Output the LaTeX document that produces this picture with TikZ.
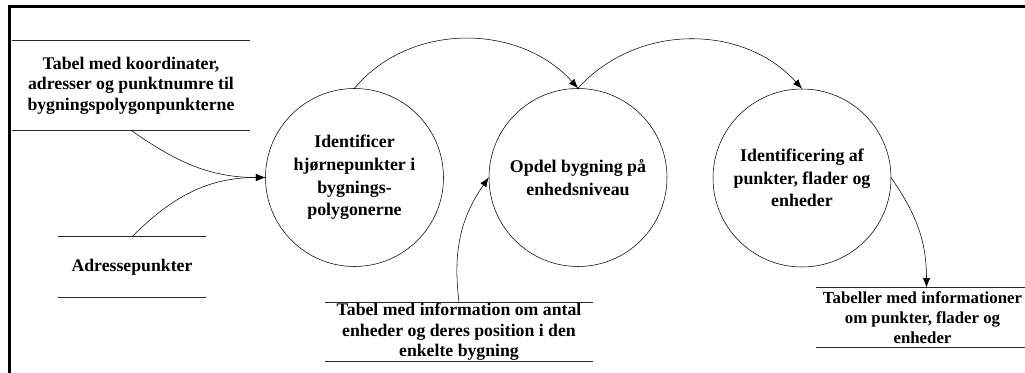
\documentclass[tikz,border=0pt]{standalone}
\usepackage{fontspec}
\setmainfont{Liberation Serif}
\usetikzlibrary{arrows.meta}

\tikzset{
  proc/.style={circle, draw, thin, minimum size=133.5pt, inner sep=0pt, align=center,
    font=\bfseries\fontsize{13.4}{17}\selectfont},
  store/.style={inner sep=0pt, align=center, font=\bfseries\fontsize{13.3}{15.5}\selectfont},
  storeline/.style={line width=0.8pt, black!85},
  flow/.style={thin, -{Latex[length=7pt,width=5.5pt]}}
}

\begin{document}
\begin{tikzpicture}[x=0.75pt, y=-0.75pt]
      \useasboundingbox (0,0) rectangle (1025,373);
      % frame
      \draw [line width=2pt] (1025,6.5) -- (9.5,6.5) -- (9.5,373);

      % processes
      \node [proc] (hjorne) at (354.5,177.5) {Identificer\\hjørnepunkter i\\bygnings-\\polygonerne};
      \node [proc] (opdel) at (578,177.5) {Opdel bygning på\\enhedsniveau};
      \node [proc] (ident) at (802,178) {Identificering af\\punkter, flader og\\enheder};

      % data stores
      \node [store, minimum width=178.5pt, minimum height=66.75pt] (tabel) at (131,85.5)
        {Tabel med koordinater,\\adresser og punktnumre til\\bygningspolygonpunkterne};
      \node [store, minimum width=111pt, minimum height=45pt] (adr) at (132,267) {Adressepunkter};
      \node [store, minimum width=201pt, minimum height=44.25pt] (enhed) at (459,332)
        {Tabel med information om antal\\enheder og deres position i den\\enkelte bygning};
      \node [store, font=\bfseries\fontsize{12.6}{15.2}\selectfont, minimum width=160pt,
        minimum height=45pt] (tabeller) at (922.5,317.7)
        {Tabeller med informationer\\om punkter, flader og\\enheder};
      \foreach \s in {tabel,adr,enhed,tabeller}
        \draw [storeline] (\s.north west) -- (\s.north east) (\s.south west) -- (\s.south east);

      % flows
      \draw [flow] (tabel.south) to [out=-35,in=180] (hjorne.west);
      \draw [flow] (adr.north) to [out=45,in=180] (hjorne.west);
      \draw [flow] (hjorne.north) to [out=50,in=132] (opdel.north);
      \draw [flow] (opdel.north) to [out=48,in=132] (ident.north);
      \draw [flow] (enhed.north) to [out=97,in=235] (opdel.west);
      \draw [flow] (ident.east) to [out=-55,in=90] ([xshift=3pt]tabeller.north);
    \end{tikzpicture}
\end{document}
